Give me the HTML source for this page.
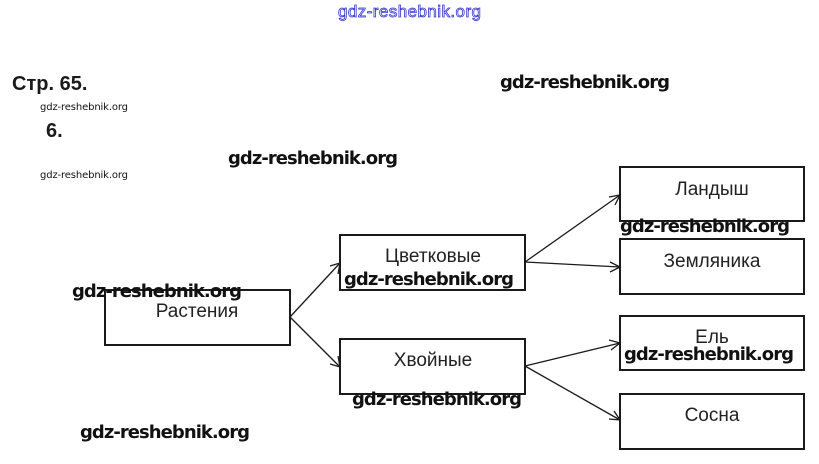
<!DOCTYPE html>
<html><head><meta charset="utf-8"><style>
html,body{margin:0;padding:0;background:#fff;}
svg{display:block;}
.wm{font-family:"DejaVu Sans","Liberation Sans",sans-serif;font-weight:bold;font-size:18px;fill:#111;}
.sm{font-family:"DejaVu Sans","Liberation Sans",sans-serif;font-size:10px;fill:#111;}
.lb{font-family:"Liberation Sans",sans-serif;font-size:19px;fill:#222;}
</style></head><body>
<svg width="819" height="464" viewBox="0 0 819 464" xmlns="http://www.w3.org/2000/svg">
<rect width="819" height="464" fill="#fff"/>
<text x="338" y="17" font-family="Liberation Sans,sans-serif" font-size="17" fill="none" stroke="#3333cc" stroke-width="0.8" textLength="143">gdz-reshebnik.org</text>
<text x="12" y="90" font-family="Liberation Sans,sans-serif" font-weight="bold" font-size="20" fill="#1a1a1a">Стр. 65.</text>
<text x="46" y="137" font-family="Liberation Sans,sans-serif" font-weight="bold" font-size="20" fill="#1a1a1a">6.</text>
<text class="sm" x="40" y="110" textLength="88">gdz-reshebnik.org</text>
<text class="sm" x="40" y="178" textLength="88">gdz-reshebnik.org</text>
<text class="wm" x="500" y="88" textLength="170">gdz-reshebnik.org</text>
<text class="wm" x="228" y="164" textLength="170">gdz-reshebnik.org</text>
<g fill="#fff" stroke="#1a1a1a" stroke-width="2">
<rect x="105" y="290" width="185" height="55"/>
<rect x="340" y="235" width="185" height="55"/>
<rect x="340" y="339" width="185" height="55"/>
<rect x="620" y="167" width="184" height="54"/>
<rect x="620" y="239" width="184" height="55"/>
<rect x="620" y="316" width="184" height="54"/>
<rect x="620" y="394" width="184" height="55"/>
</g>
<g stroke="#1a1a1a" stroke-width="1.3" fill="none">
<line x1="290" y1="317" x2="340" y2="263"/><polyline points="330,266 340,263 338,274"/>
<line x1="290" y1="317" x2="340" y2="367"/><polyline points="338,356 340,367 330,364"/>
<line x1="525" y1="262" x2="620" y2="195"/><polyline points="609,197 620,195 615,205"/>
<line x1="525" y1="262" x2="620" y2="267"/><polyline points="610,262 620,267 610,272"/>
<line x1="525" y1="366" x2="620" y2="343"/><polyline points="609,340 620,343 611,350"/>
<line x1="525" y1="366" x2="620" y2="420"/><polyline points="614,411 620,420 609,419"/>
</g>
<g class="lb" text-anchor="middle">
<text x="197" y="317">Растения</text>
<text x="433" y="262">Цветковые</text>
<text x="433" y="366">Хвойные</text>
<text x="712" y="195">Ландыш</text>
<text x="712" y="267">Земляника</text>
<text x="712" y="343">Ель</text>
<text x="712" y="421">Сосна</text>
</g>
<text class="wm" x="620" y="232" textLength="170">gdz-reshebnik.org</text>
<text class="wm" x="344" y="285" textLength="170">gdz-reshebnik.org</text>
<text class="wm" x="72" y="297" textLength="170">gdz-reshebnik.org</text>
<text class="wm" x="624" y="360" textLength="170">gdz-reshebnik.org</text>
<text class="wm" x="352" y="405" textLength="170">gdz-reshebnik.org</text>
<text class="wm" x="80" y="438" textLength="170">gdz-reshebnik.org</text>
</svg>
</body></html>
